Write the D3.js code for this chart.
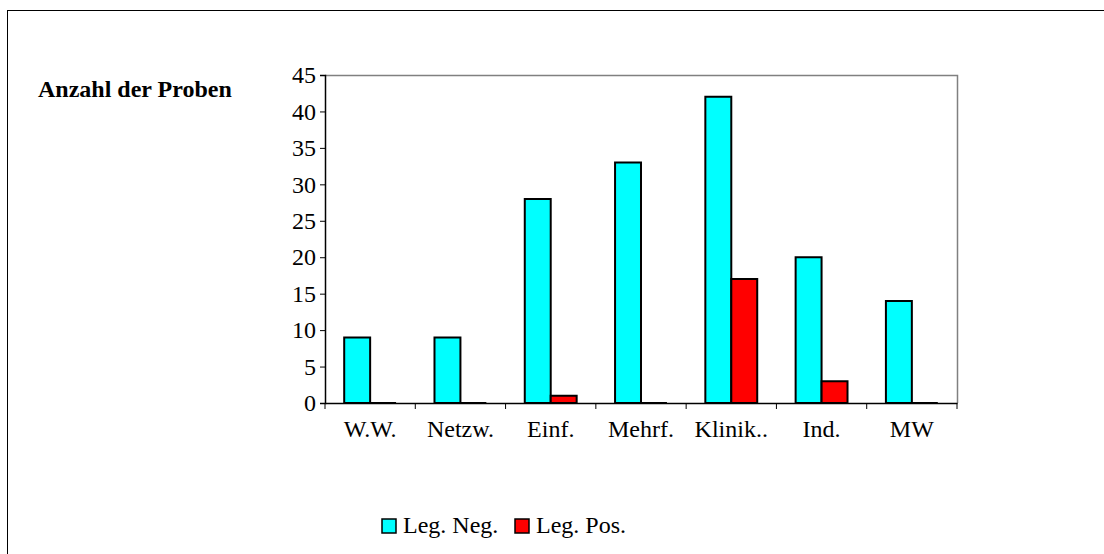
<!DOCTYPE html>
<html>
<head>
<meta charset="utf-8">
<script src="https://cdn.jsdelivr.net/npm/d3@7"></script>
<style>
  body { margin: 0; background: #fff; }
  text { font-family: "Liberation Serif", "Times New Roman", serif; fill: #000; }
</style>
</head>
<body>
<svg id="chart" width="1104" height="554"></svg>
<script>
const categories = ["W.W.", "Netzw.", "Einf.", "Mehrf.", "Klinik..", "Ind.", "MW"];
const negValues = [9, 9, 28, 33, 42, 20, 14];
const posValues = [0, 0, 1, 0, 17, 3, 0];
const yTicks = [0, 5, 10, 15, 20, 25, 30, 35, 40, 45];
const seriesNames = ["Leg. Neg.", "Leg. Pos."];
const seriesColors = ["#00ffff", "#ff0000"];

const svg = d3.select("#chart");

// outer frame
svg.append("rect")
  .attr("x", 7.5).attr("y", 10.5)
  .attr("width", 1110).attr("height", 560)
  .attr("fill", "none").attr("stroke", "#000").attr("stroke-width", 1);

const plotL = 325, plotR = 957, plotT = 75, plotB = 403;

const x = d3.scaleBand().domain(categories).range([plotL, plotR]);
const inner = d3.scaleBand().domain([0, 1]).range([0, x.bandwidth()]).paddingOuter(0.74).paddingInner(0);
const y = d3.scaleLinear().domain([0, 45]).range([plotB, plotT]);

// gray plot frame top/right
svg.append("path")
  .attr("d", `M${plotL},${plotT + 0.5}H${plotR + 0.5}V${plotB}`)
  .attr("fill", "none").attr("stroke", "#808080").attr("stroke-width", 1.5);

// bars
const data = categories.map((c, i) => ({ c, vals: [negValues[i], posValues[i]] }));
const groups = svg.append("g").selectAll("g").data(data).join("g")
  .attr("transform", d => `translate(${x(d.c)},0)`);

groups.selectAll("path").data(d => d.vals).join("path")
  .attr("d", (v, j) => {
    const x0 = inner(j), w = inner.bandwidth();
    const y0 = y(v), h = y(0) - y(v);
    return `M${x0},${y0}h${w}v${h}h${-w}Z`;
  })
  .attr("fill", (v, j) => seriesColors[j])
  .attr("stroke", "#000").attr("stroke-width", 2);

// y axis
const yAxis = svg.append("g")
  .attr("transform", `translate(${plotL},0)`)
  .call(d3.axisLeft(y).tickValues(yTicks).tickSize(5).tickPadding(4));
yAxis.select(".domain").attr("stroke", "#000").attr("stroke-width", 1.5);
yAxis.selectAll(".tick line").attr("stroke", "#000");
yAxis.selectAll("text").attr("font-size", 24).attr("font-family", "Liberation Serif");

// x axis
const xAxis = svg.append("g")
  .attr("transform", `translate(0,${plotB})`)
  .call(d3.axisBottom(x).tickSize(0).tickPadding(16));
xAxis.select(".domain").attr("stroke", "#000").attr("stroke-width", 1.5);
xAxis.selectAll("text").attr("font-size", 24).attr("font-family", "Liberation Serif")
  .attr("dy", null).attr("y", 34);
// tick marks between categories
svg.append("g").selectAll("line")
  .data(categories.map(c => x(c)).concat([plotR]))
  .join("line")
  .attr("x1", d => d).attr("x2", d => d)
  .attr("y1", plotB).attr("y2", plotB + 6)
  .attr("stroke", "#000");

// title
svg.append("text")
  .attr("x", 38).attr("y", 97)
  .attr("font-size", 24).attr("font-weight", "bold")
  .text("Anzahl der Proben");

// legend
const legendX = [382, 515];
const legend = svg.append("g").selectAll("g").data(seriesNames).join("g")
  .attr("transform", (d, i) => `translate(${legendX[i]},519)`);
legend.append("rect")
  .attr("width", 14).attr("height", 14)
  .attr("fill", (d, i) => seriesColors[i])
  .attr("stroke", "#000").attr("stroke-width", 1.5);
legend.append("text")
  .attr("x", 21).attr("y", 14)
  .attr("font-size", 24)
  .text(d => d);
</script>
</body>
</html>
